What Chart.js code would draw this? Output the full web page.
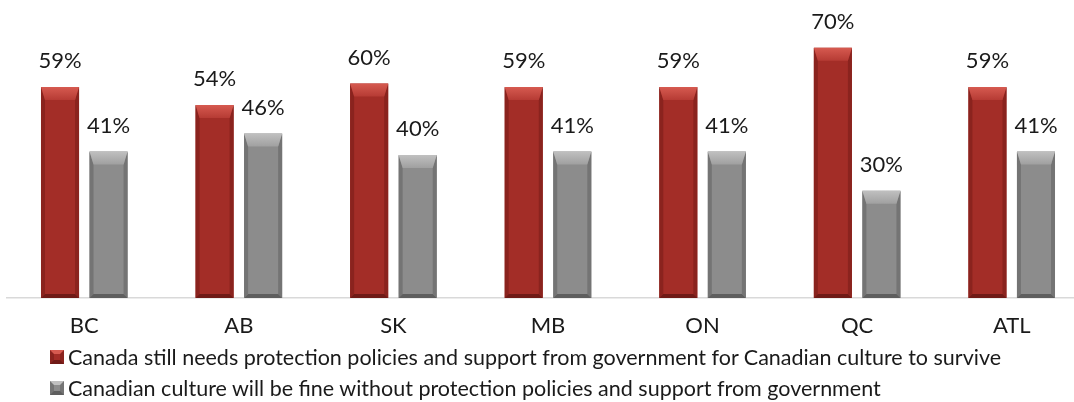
<!DOCTYPE html>
<html>
<head>
<meta charset="utf-8">
<script src="https://cdn.jsdelivr.net/npm/chart.js@4.4.1/dist/chart.umd.min.js"></script>
<style>
  body { margin: 0; background: #fff; overflow: hidden; }
  #wrap { position: relative; width: 1074px; height: 402px; overflow: hidden; }
  #chart { position: absolute; left: 0; top: 0; }
  #legend { position: absolute; left: 50px; top: 341px; font: 21.5px Lato, sans-serif; color: #1a1a1a; white-space: nowrap; }
  .item { display: flex; align-items: center; height: 31px; }
  .swatch { width: 6px; height: 6px; border-style: solid; border-width: 4px; margin-right: 4px; }
</style>
</head>
<body>
<div id="wrap">
  <canvas id="chart" width="1096" height="402"></canvas>
  <div id="legend"></div>
</div>
<script>
const regions = ['BC', 'AB', 'SK', 'MB', 'ON', 'QC', 'ATL'];
const needsSupport = [59, 54, 60, 59, 59, 70, 59];
const fineWithout = [41, 46, 40, 41, 41, 30, 41];
const seriesNames = [
  'Canada still needs protection policies and support from government for Canadian culture to survive',
  'Canadian culture will be fine without protection policies and support from government'
];

// bevel shades per series: body, top highlight, bevel foot, sides, bottom
const shades = [
  { body: '#a32d27', hi: '#d65a50', mid: '#b63b34', side: '#8a231e', low: '#6f1a16' },
  { body: '#8c8c8c', hi: '#c0c0c0', mid: '#a0a0a0', side: '#747474', low: '#5e5e5e' }
];

function poly(ctx, pts, fill) {
  ctx.beginPath();
  ctx.moveTo(pts[0][0], pts[0][1]);
  for (let i = 1; i < pts.length; i++) ctx.lineTo(pts[i][0], pts[i][1]);
  ctx.closePath();
  ctx.fillStyle = fill;
  ctx.fill();
}

const bevelBars = {
  id: 'bevelBars',
  afterDatasetsDraw(chart) {
    const ctx = chart.ctx;
    ctx.save();
    chart.data.datasets.forEach((ds, di) => {
      const sh = shades[di];
      chart.getDatasetMeta(di).data.forEach((bar, i) => {
        const p = bar.getProps(['x', 'y', 'base', 'width'], true);
        const l = p.x - p.width / 2, r = p.x + p.width / 2, t = p.y, b = p.base;
        const s = 4, top = 13, bot = 4;
        poly(ctx, [[l, t], [l + s, t + top], [l + s, b - bot], [l, b]], sh.side);
        poly(ctx, [[r, t], [r - s, t + top], [r - s, b - bot], [r, b]], sh.side);
        const g = ctx.createLinearGradient(0, t, 0, t + top);
        g.addColorStop(0, sh.hi);
        g.addColorStop(1, sh.mid);
        poly(ctx, [[l, t], [r, t], [r - s, t + top], [l + s, t + top]], g);
        poly(ctx, [[l, b], [r, b], [r - s, b - bot], [l + s, b - bot]], sh.low);

        // value label above the bar
        ctx.font = '22px Lato, sans-serif';
        ctx.fillStyle = '#1a1a1a';
        ctx.textAlign = 'center';
        ctx.textBaseline = 'middle';
        ctx.fillText(ds.data[i] + '%', p.x, t - 26);
      });
    });
    ctx.restore();
  }
};

const chart = new Chart(document.getElementById('chart'), {
  type: 'bar',
  data: {
    labels: regions,
    datasets: [
      { label: seriesNames[0], data: needsSupport, backgroundColor: shades[0].body },
      { label: seriesNames[1], data: fineWithout, backgroundColor: shades[1].body }
    ]
  },
  options: {
    responsive: false,
    animation: false,
    categoryPercentage: 0.628,
    barPercentage: 0.784,
    layout: { padding: { left: 7, right: 7, top: 12, bottom: 47.6 } },
    scales: {
      x: {
        grid: { display: false, drawTicks: false },
        border: { color: '#d9d9d9', width: 1.5 },
        ticks: { color: '#1a1a1a', font: { family: 'Lato', size: 22 }, padding: 15, maxRotation: 0, autoSkip: false }
      },
      y: { display: false, min: 0, max: 80 }
    },
    plugins: { legend: { display: false }, tooltip: { enabled: false } }
  },
  plugins: [bevelBars]
});

// legend rows built from the dataset labels
const legendEl = document.getElementById('legend');
chart.data.datasets.forEach((ds, di) => {
  const sh = shades[di];
  const row = document.createElement('div');
  row.className = 'item';
  row.innerHTML = `<span class="swatch" style="background:${sh.body};border-color:${sh.hi} ${sh.side} ${sh.low} ${sh.side}"></span><span>${ds.label}</span>`;
  legendEl.appendChild(row);
});
</script>
</body>
</html>
